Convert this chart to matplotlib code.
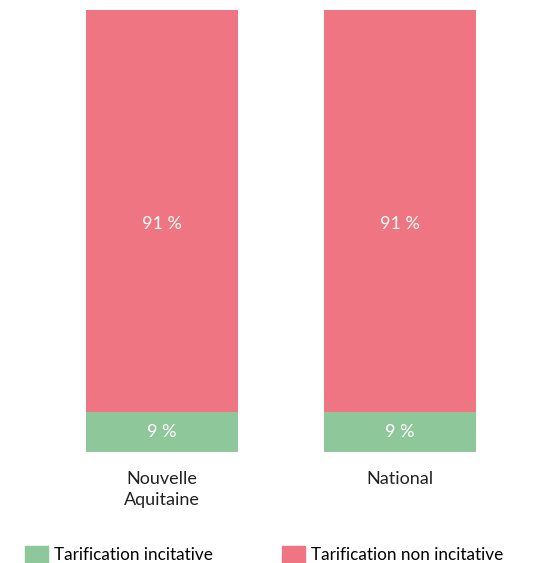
import matplotlib
matplotlib.use("Agg")
import matplotlib.pyplot as plt
from matplotlib.patches import Patch

plt.rcParams['font.family'] = ['Lato', 'DejaVu Sans']

regions = ["Nouvelle\nAquitaine", "National"]
incitative = [9, 9]
non_incitative = [91, 91]
series_names = ["Tarification incitative", "Tarification non incitative"]
colors = ["#8EC89A", "#EE7581"]

fig = plt.figure(figsize=(5.38, 5.63), dpi=100)
ax = fig.add_axes([0, 1 - 452 / 563, 1, 442 / 563])

x = list(range(len(regions)))
w = 152 / 238
ax.bar(x, incitative, width=w, color=colors[0])
ax.bar(x, non_incitative, width=w, bottom=incitative, color=colors[1])

for i in x:
    ax.text(i, incitative[i] / 2, f"{incitative[i]} %", ha="center", va="center",
            color="white", fontsize=13)
    # label sits a little below the middle of the red block
    ax.annotate(f"{non_incitative[i]} %", (i, incitative[i] + non_incitative[i] / 2),
                xytext=(0, -9), textcoords="offset points",
                ha="center", va="center", color="white", fontsize=13)

ax.set_xlim(-162 / 238, (538 - 162) / 238)
ax.set_ylim(0, 100)
ax.set_xticks(x)
ax.set_xticklabels(regions, fontsize=13, color="#222222", va="top", linespacing=1.35)
ax.tick_params(axis="x", length=0, pad=14)
ax.set_yticks([])
for s in ax.spines.values():
    s.set_visible(False)

handles = [Patch(color=c, label=n) for c, n in zip(colors, series_names)]
fig.legend(handles=handles, loc="lower left", bbox_to_anchor=(10 / 538, -16 / 563),
           ncol=2, frameon=False, fontsize=12.3, handlelength=1.3, handleheight=1.25,
           handletextpad=0.35, columnspacing=4.1)

fig.savefig("out.png", dpi=100)
